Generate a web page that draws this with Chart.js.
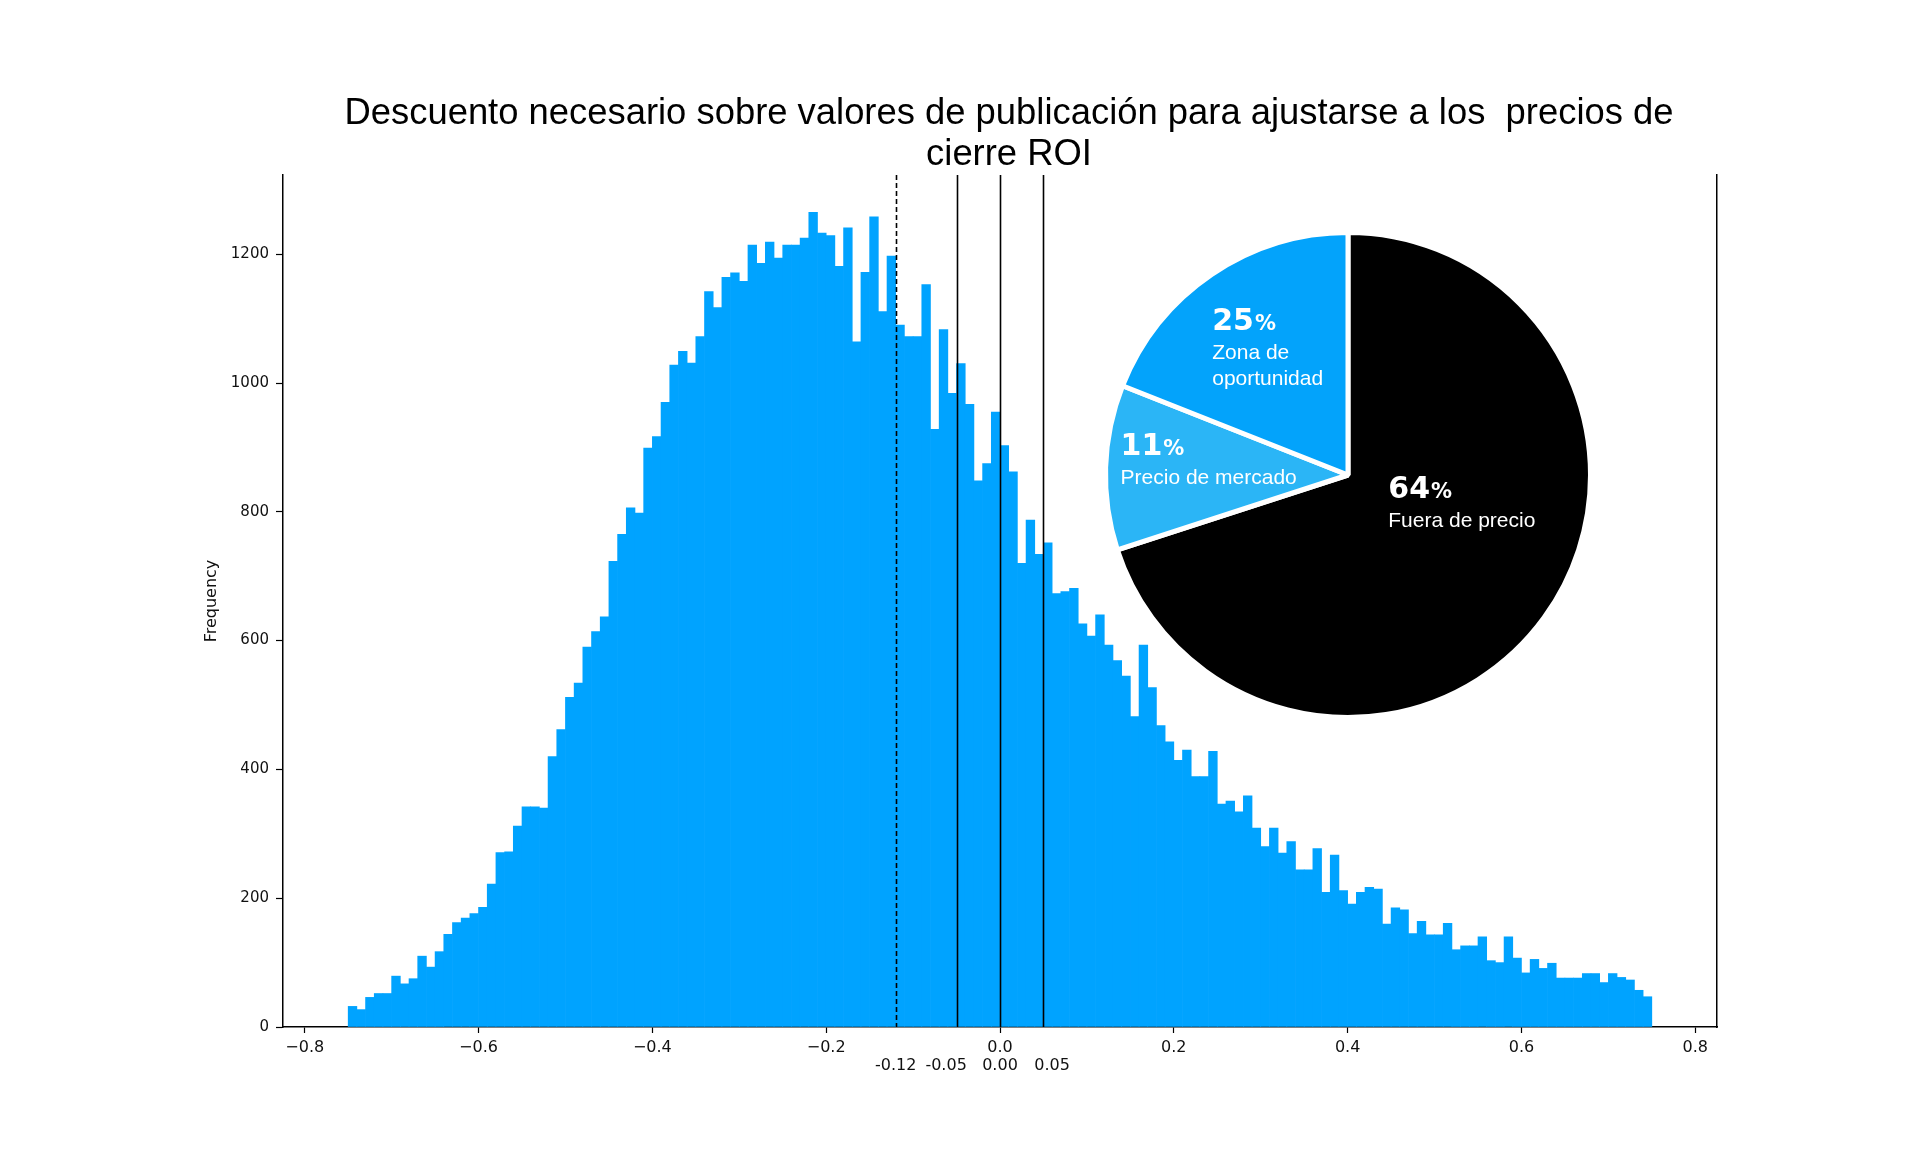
<!DOCTYPE html>
<html>
<head>
<meta charset="utf-8">
<title>Descuento necesario sobre valores de publicación</title>
<script src="https://cdn.jsdelivr.net/npm/chart.js@4.4.1/dist/chart.umd.min.js"></script>
<style>
  html, body { margin: 0; padding: 0; background: #fff; }
  #wrap { position: relative; width: 1920px; height: 1161px; }
  #histCanvas { position: absolute; left: 0; top: 0; }
  #pieCanvas { position: absolute; left: 1093px; top: 220px; }
</style>
</head>
<body>
<div id="wrap">
  <canvas id="histCanvas" width="1920" height="1161"></canvas>
  <canvas id="pieCanvas" width="510" height="510"></canvas>
</div>
<script>
// titulo (dos lineas, como en el original)
const titleLines = [
    'Descuento necesario sobre valores de publicación para ajustarse a los  precios de',
    'cierre ROI'
];

// histograma: 150 bins de 0.01 entre -0.75 y 0.75
const binStart = -0.75;
const binWidth = 0.01;
const counts = [
    32, 27, 46, 52, 52, 79, 67, 75, 110, 93,
    117, 144, 162, 169, 176, 186, 222, 271, 272, 312,
    342, 342, 340, 420, 462, 512, 534, 590, 614, 637,
    723, 765, 806, 798, 899, 917, 970, 1028, 1049, 1031,
    1072, 1142, 1117, 1164, 1171, 1158, 1214, 1186, 1219, 1194,
    1214, 1214, 1225, 1265, 1233, 1229, 1181, 1241, 1064, 1172,
    1258, 1111, 1197, 1090, 1072, 1072, 1153, 928, 1083, 984,
    1030, 967, 848, 875, 955, 903, 862, 720, 787, 734,
    752, 673, 676, 681, 626, 607, 640, 593, 569, 545,
    482, 593, 527, 468, 443, 414, 430, 389, 389, 428,
    346, 351, 334, 359, 309, 280, 309, 270, 288, 244,
    244, 277, 209, 267, 212, 191, 209, 217, 214, 160,
    185, 182, 145, 164, 143, 143, 161, 120, 126, 126,
    140, 103, 100, 140, 107, 84, 105, 91, 99, 76,
    76, 76, 83, 83, 69, 83, 77, 73, 57, 47
];

const xTicks = [-0.8, -0.6, -0.4, -0.2, 0.0, 0.2, 0.4, 0.6, 0.8];
const xTickLabels = ['\u22120.8', '\u22120.6', '\u22120.4', '\u22120.2', '0.0', '0.2', '0.4', '0.6', '0.8'];
const yTicks = [0, 200, 400, 600, 800, 1000, 1200];

// lineas de referencia
const refLines = [-0.12, -0.05, 0.00, 0.05];
const refDashed = [true, false, false, false];
// sus etiquetas, en la segunda fila (en el original -0.05 y 0.05 van algo separadas hacia fuera)
const refLabels = ['-0.12', '-0.05', '0.00', '0.05'];
const refLabelAt = [-0.12, -0.062, 0.0, 0.06];

// tarta (tamaño de los sectores medido en el dibujo, texto tal como aparece)
const pieSlices = [70, 11, 19];
const piePercents = ['64', '11', '25'];
const pieNames = [['Fuera de precio'], ['Precio de mercado'], ['Zona de', 'oportunidad']];

const barColor = '#00a3ff';
const pieColors = ['#000000', '#2bb5f6', '#03a3fb'];
// posicion de los textos de la tarta, en fracciones del radio respecto al centro
const pieLabelPos = [[0.166, 0.095], [-0.938, -0.083], [-0.560, -0.598]];

const tickFont = {family: '"DejaVu Sans", sans-serif', size: 16};
const sansFont = '"Liberation Sans", Arial, sans-serif';

const binCenters = counts.map((c, i) => +(binStart + binWidth * (i + 0.5)).toFixed(3));

const titlePlugin = {
    id: 'twoLineTitle',
    afterDraw(chart) {
        const {ctx, chartArea} = chart;
        ctx.save();
        ctx.font = '36.4px ' + sansFont;
        ctx.fillStyle = '#000';
        ctx.textAlign = 'center';
        ctx.textBaseline = 'alphabetic';
        const cx = (chartArea.left + chartArea.right) / 2 + 9;
        titleLines.forEach((line, i) => {
            ctx.fillText(line, cx, chartArea.top - 51 + i * 41);
        });
        ctx.restore();
    }
};

const refLinesPlugin = {
    id: 'refLines',
    afterDatasetsDraw(chart) {
        const {ctx, chartArea, scales} = chart;
        ctx.save();
        ctx.strokeStyle = '#000';
        ctx.lineWidth = 1.6;
        refLines.forEach((v, i) => {
            const px = Math.round(scales.x.getPixelForValue(v)) + 0.5;
            ctx.setLineDash(refDashed[i] ? [5, 3] : []);
            ctx.beginPath();
            ctx.moveTo(px, chartArea.top);
            ctx.lineTo(px, chartArea.bottom);
            ctx.stroke();
        });
        ctx.restore();
    }
};

new Chart(document.getElementById('histCanvas'), {
    type: 'bar',
    data: {
        datasets: [{
            data: counts.map((c, i) => ({x: binCenters[i], y: c})),
            xAxisID: 'x',
            yAxisID: 'y',
            backgroundColor: barColor,
            borderWidth: 0,
            barPercentage: 1,
            categoryPercentage: 1
        }]
    },
    options: {
        responsive: false,
        animation: false,
        events: [],
        layout: {padding: {top: 175, right: 203, bottom: 75, left: 0}},
        plugins: {
            legend: {display: false},
            tooltip: {enabled: false},
            title: {display: false}
        },
        scales: {
            x: {
                type: 'linear',
                axis: 'x',
                position: 'bottom',
                min: -0.825,
                max: 0.825,
                offset: false,
                weight: 0,
                z: 1,
                grid: {display: true, offset: false, drawOnChartArea: false, drawTicks: true, tickLength: 6, tickColor: '#000', tickWidth: 1.2},
                border: {display: true, color: '#000', width: 1.5},
                afterBuildTicks: s => { s.ticks = xTicks.map(v => ({value: v})); },
                afterFit: s => { s.height = 29; },
                ticks: {
                    autoSkip: false,
                    maxRotation: 0,
                    padding: 5,
                    color: '#111',
                    font: tickFont,
                    callback: (v, i) => xTickLabels[i]
                }
            },
            x2: {
                type: 'linear',
                axis: 'x',
                position: 'bottom',
                min: -0.825,
                max: 0.825,
                offset: false,
                weight: 1,
                grid: {display: false, offset: false, drawTicks: false},
                border: {display: false},
                afterBuildTicks: s => { s.ticks = refLabelAt.map(v => ({value: v})); },
                afterFit: s => { s.height = 30; },
                ticks: {
                    autoSkip: false,
                    maxRotation: 0,
                    padding: 0,
                    color: '#111',
                    font: tickFont,
                    callback: (v, i) => refLabels[i]
                }
            },
            y: {
                type: 'linear',
                axis: 'y',
                position: 'left',
                min: 0,
                max: 1323,
                grid: {display: true, drawOnChartArea: false, drawTicks: true, tickLength: 7, tickColor: '#000', tickWidth: 1.2},
                border: {display: true, color: '#000', width: 1.5},
                afterBuildTicks: s => { s.ticks = yTicks.map(v => ({value: v})); },
                afterFit: s => { s.width = 283; },
                ticks: {
                    padding: 7,
                    color: '#111',
                    font: {family: '"DejaVu Sans", sans-serif', size: 15},
                    callback: v => String(v)
                },
                title: {
                    display: true,
                    text: 'Frequency',
                    color: '#111',
                    font: {family: '"DejaVu Sans", sans-serif', size: 16},
                    padding: {top: 202, bottom: 0}
                }
            },
            y2: {
                type: 'linear',
                axis: 'y',
                position: 'right',
                min: 0,
                max: 1323,
                display: true,
                grid: {display: false, drawTicks: false},
                border: {display: true, color: '#000', width: 1.5},
                ticks: {display: false},
                afterFit: s => { s.width = 0; }
            }
        }
    },
    plugins: [titlePlugin, refLinesPlugin]
});

const pieLabelPlugin = {
    id: 'pieLabels',
    afterDatasetsDraw(chart) {
        const {ctx} = chart;
        const arcs = chart.getDatasetMeta(0).data;
        ctx.save();
        ctx.fillStyle = '#fff';
        ctx.textAlign = 'left';
        ctx.textBaseline = 'alphabetic';
        arcs.forEach((arc, i) => {
            const r = arc.outerRadius;
            const x0 = arc.x + pieLabelPos[i][0] * r;
            const y0 = arc.y + pieLabelPos[i][1] * r;
            ctx.font = 'bold 30px "DejaVu Sans", sans-serif';
            ctx.fillText(piePercents[i], x0, y0);
            const w = ctx.measureText(piePercents[i]).width;
            ctx.font = 'bold 21px "DejaVu Sans", sans-serif';
            ctx.fillText('%', x0 + w + 1, y0);
            ctx.font = '21px ' + sansFont;
            pieNames[i].forEach((line, j) => {
                ctx.fillText(line, x0, y0 + 29 + j * 26);
            });
        });
        ctx.restore();
    }
};

new Chart(document.getElementById('pieCanvas'), {
    type: 'pie',
    data: {
        labels: pieNames.map(n => n.join(' ')),
        datasets: [{
            data: pieSlices,
            backgroundColor: pieColors,
            borderColor: '#fff',
            borderWidth: 5
        }]
    },
    options: {
        responsive: false,
        animation: false,
        events: [],
        layout: {padding: 10},
        plugins: {
            legend: {display: false},
            tooltip: {enabled: false}
        }
    },
    plugins: [pieLabelPlugin]
});
</script>
</body>
</html>
